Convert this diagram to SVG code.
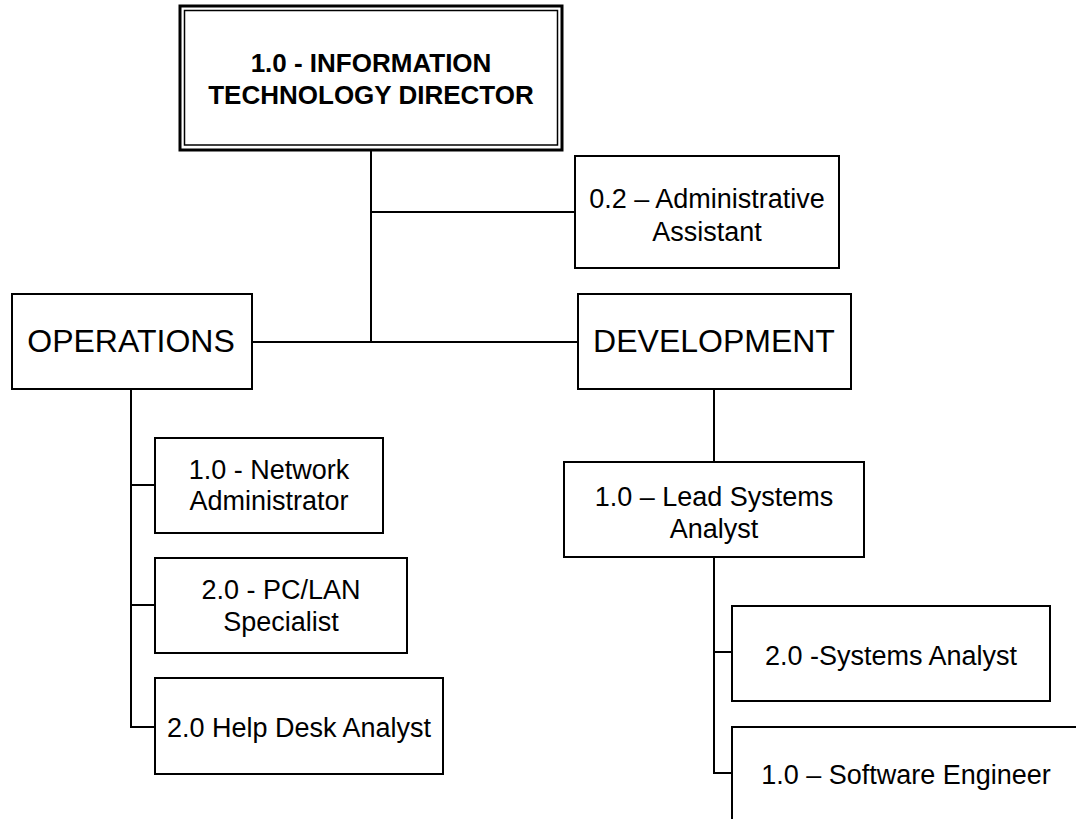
<svg xmlns="http://www.w3.org/2000/svg" width="1076" height="819" viewBox="0 0 1076 819">
<style>
.box{fill:#fff;stroke:#000;stroke-width:2}
.conn line{stroke:#000;stroke-width:2}
text{font-family:"Liberation Sans",Arial,sans-serif;fill:#000;text-anchor:middle}
.t{font-size:27px}
.big{font-size:32px}
.bold{font-size:26px;font-weight:bold}
</style>
<rect width="1076" height="819" fill="#fff"/>
<g class="conn">
<line x1="371" y1="150" x2="371" y2="343"/>
<line x1="370" y1="212" x2="576" y2="212"/>
<line x1="252" y1="342" x2="578" y2="342"/>
<line x1="714" y1="389" x2="714" y2="462"/>
<line x1="714" y1="557" x2="714" y2="774"/>
<line x1="713" y1="652" x2="732" y2="652"/>
<line x1="713" y1="773" x2="732" y2="773"/>
<line x1="131" y1="390" x2="131" y2="728"/>
<line x1="130" y1="485" x2="155" y2="485"/>
<line x1="130" y1="605" x2="155" y2="605"/>
<line x1="130" y1="727" x2="155" y2="727"/>
</g>
<g id="director">
<rect x="180" y="6" width="382" height="144" fill="#fff" stroke="#000" stroke-width="3"/>
<rect x="184.5" y="10.5" width="373" height="134.5" fill="none" stroke="#000" stroke-width="1.5"/>
<text class="bold" x="371" y="72">1.0 - INFORMATION</text>
<text class="bold" x="371" y="104">TECHNOLOGY DIRECTOR</text>
</g>
<g id="admin">
<rect class="box" x="575" y="156" width="264" height="112"/>
<text class="t" x="707" y="208">0.2 – Administrative</text>
<text class="t" x="707" y="241">Assistant</text>
</g>
<g id="operations">
<rect class="box" x="12" y="294" width="240" height="95"/>
<text class="big" x="131" y="352">OPERATIONS</text>
</g>
<g id="development">
<rect class="box" x="578" y="294" width="273" height="95"/>
<text class="big" x="714" y="352">DEVELOPMENT</text>
</g>
<g id="lead">
<rect class="box" x="564" y="462" width="300" height="95"/>
<text class="t" x="714" y="506">1.0 – Lead Systems</text>
<text class="t" x="714" y="538">Analyst</text>
</g>
<g id="sysanalyst">
<rect class="box" x="732" y="606" width="318" height="95"/>
<text class="t" x="891" y="665">2.0 -Systems Analyst</text>
</g>
<g id="softeng">
<rect class="box" x="732" y="727" width="400" height="150"/>
<text class="t" x="906" y="784">1.0 – Software Engineer</text>
</g>
<g id="netadmin">
<rect class="box" x="155" y="438" width="228" height="95"/>
<text class="t" x="269" y="479">1.0 - Network</text>
<text class="t" x="269" y="510">Administrator</text>
</g>
<g id="pclan">
<rect class="box" x="155" y="558" width="252" height="95"/>
<text class="t" x="281" y="599">2.0 - PC/LAN</text>
<text class="t" x="281" y="631">Specialist</text>
</g>
<g id="helpdesk">
<rect class="box" x="155" y="678" width="288" height="96"/>
<text class="t" x="299" y="737">2.0 Help Desk Analyst</text>
</g>
</svg>
